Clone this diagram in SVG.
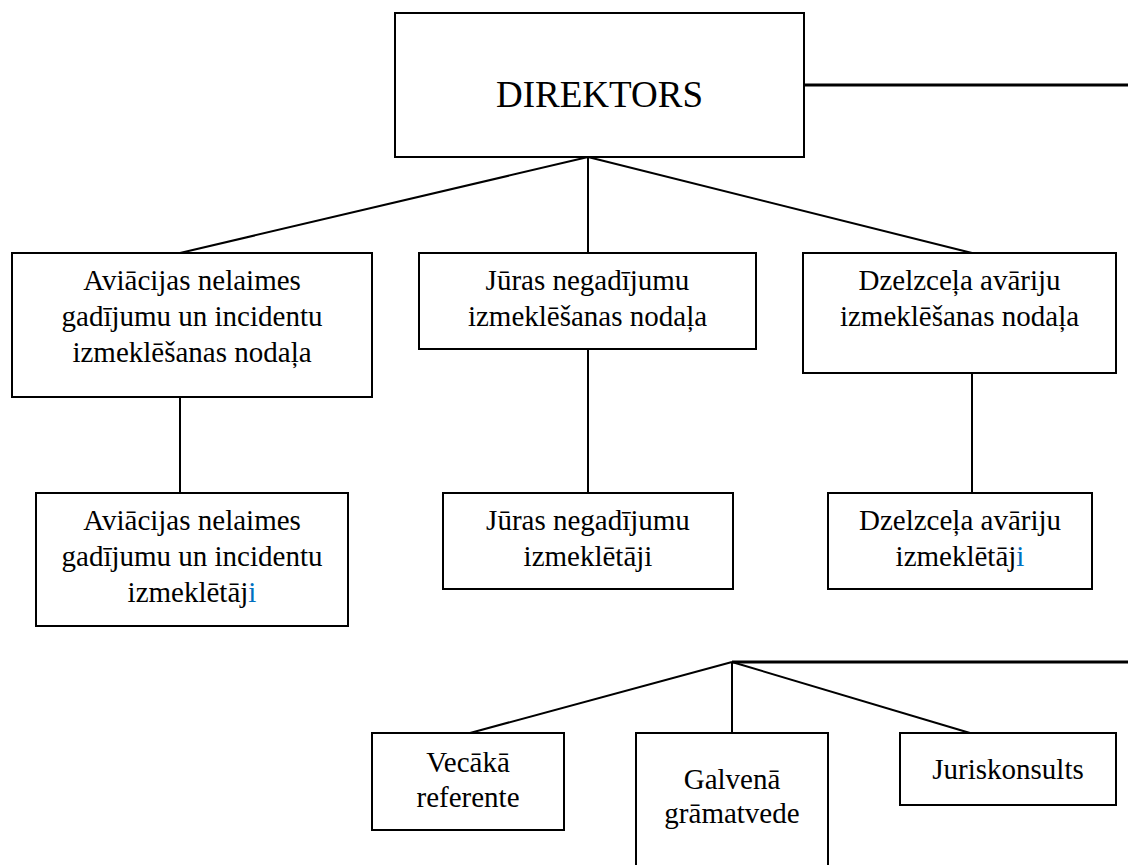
<svg xmlns="http://www.w3.org/2000/svg" width="1128" height="865" viewBox="0 0 1128 865" font-family="Liberation Serif, Times New Roman, DejaVu Serif, serif">
<style>
  .box { fill: #ffffff; stroke: #000000; stroke-width: 2; }
  .t { font-size: 29px; fill: #000000; text-anchor: middle; }
  .big { font-size: 37px; }
  .blue { fill: #0070C0; }
  .ln { stroke: #000000; stroke-width: 2; fill: none; }
  .thick { stroke: #000000; stroke-width: 3; fill: none; }
</style>
<rect width="1128" height="865" fill="#ffffff"/>
<g id="connectors">
  <line class="thick" x1="804" y1="85" x2="1128" y2="85"/>
  <line class="ln" x1="588" y1="157" x2="180" y2="253"/>
  <line class="ln" x1="588" y1="157" x2="588" y2="253"/>
  <line class="ln" x1="588" y1="157" x2="972" y2="253"/>
  <line class="ln" x1="180" y1="397" x2="180" y2="493"/>
  <line class="ln" x1="588" y1="349" x2="588" y2="493"/>
  <line class="ln" x1="972" y1="373" x2="972" y2="493"/>
  <line class="thick" x1="732" y1="662" x2="1128" y2="662"/>
  <line class="ln" x1="732" y1="662" x2="470" y2="733"/>
  <line class="ln" x1="732" y1="662" x2="732" y2="733"/>
  <line class="ln" x1="732" y1="662" x2="970" y2="733"/>
</g>
<g id="direktors">
  <rect class="box" x="395" y="13" width="409" height="144"/>
  <text class="t big" x="599.5" y="107">DIREKTORS</text>
</g>
<g id="avia-nodala">
  <rect class="box" x="12" y="253" width="360" height="144"/>
  <text class="t" x="192" y="290">Aviācijas nelaimes</text>
  <text class="t" x="192" y="326">gadījumu un incidentu</text>
  <text class="t" x="192" y="362">izmeklēšanas nodaļa</text>
</g>
<g id="juras-nodala">
  <rect class="box" x="419" y="253" width="337" height="96"/>
  <text class="t" x="587.5" y="290">Jūras negadījumu</text>
  <text class="t" x="587.5" y="326">izmeklēšanas nodaļa</text>
</g>
<g id="dzelzcela-nodala">
  <rect class="box" x="803" y="253" width="313" height="120"/>
  <text class="t" x="959.5" y="290">Dzelzceļa avāriju</text>
  <text class="t" x="959.5" y="326">izmeklēšanas nodaļa</text>
</g>
<g id="avia-izmekletaji">
  <rect class="box" x="36" y="493" width="312" height="133"/>
  <text class="t" x="192" y="530">Aviācijas nelaimes</text>
  <text class="t" x="192" y="566">gadījumu un incidentu</text>
  <text class="t" x="192" y="602">izmeklētāj<tspan class="blue">i</tspan></text>
</g>
<g id="juras-izmekletaji">
  <rect class="box" x="443" y="493" width="290" height="96"/>
  <text class="t" x="588" y="530">Jūras negadījumu</text>
  <text class="t" x="588" y="566">izmeklētāji</text>
</g>
<g id="dzelzcela-izmekletaji">
  <rect class="box" x="828" y="493" width="264" height="96"/>
  <text class="t" x="960" y="530">Dzelzceļa avāriju</text>
  <text class="t" x="960" y="566">izmeklētāj<tspan class="blue">i</tspan></text>
</g>
<g id="vecaka-referente">
  <rect class="box" x="372" y="733" width="192" height="97"/>
  <text class="t" x="468" y="772">Vecākā</text>
  <text class="t" x="468" y="807">referente</text>
</g>
<g id="galvena-gramatvede">
  <rect class="box" x="636" y="733" width="192" height="140"/>
  <text class="t" x="732" y="789">Galvenā</text>
  <text class="t" x="732" y="823">grāmatvede</text>
</g>
<g id="juriskonsults">
  <rect class="box" x="900" y="733" width="216" height="72"/>
  <text class="t" x="1008" y="779">Juriskonsults</text>
</g>
</svg>
